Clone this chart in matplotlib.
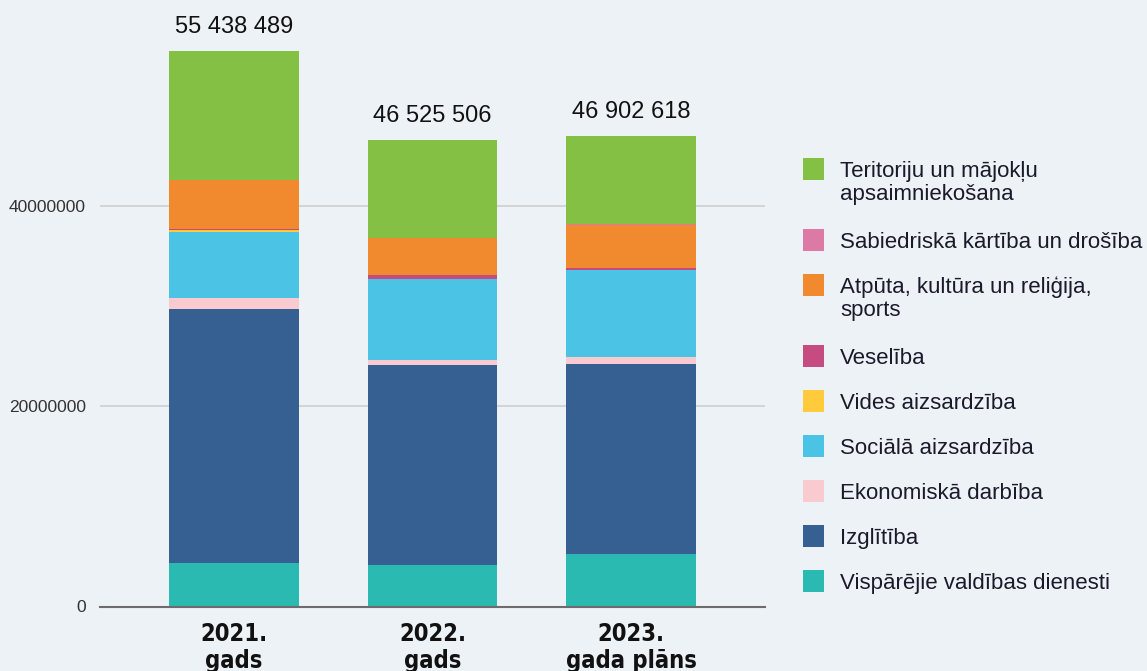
import numpy as np
import matplotlib.pyplot as plt
from matplotlib.patches import Rectangle

# --- data (values in EUR) ---
years = ["2021.\ngads", "2022.\ngads", "2023.\ngada plāns"]
totals_text = ["55 438 489", "46 525 506", "46 902 618"]

# stacked from bottom to top
categories = [
    "Vispārējie valdības dienesti",
    "Izglītība",
    "Ekonomiskā darbība",
    "Sociālā aizsardzība",
    "Vides aizsardzība",
    "Veselība",
    "Atpūta, kultūra un reliģija,\nsports",
    "Sabiedriskā kārtība un drošība",
    "Teritoriju un mājokļu\napsaimniekošana",
]
vispareji = [4340000, 4140000, 5240000]
izglitiba = [25340000, 19950000, 18950000]
ekonomika = [1090000, 500000, 700000]
sociala = [6620000, 8080000, 8680000]
vides = [120000, 0, 0]
veseliba = [130000, 400000, 200000]
atputa = [4900000, 3690000, 4320000]
sabiedriska = [0, 0, 100000]
teritoriju = [12898489, 9765506, 8712618]

series = [vispareji, izglitiba, ekonomika, sociala, vides, veseliba, atputa, sabiedriska, teritoriju]
colors = ["#2BBAB1", "#376092", "#F9CACF", "#4AC3E4", "#FFCB3D", "#C64B80", "#F18A2F", "#DC7AA5", "#84C044"]

BG = "#EDF2F7"
plt.rcParams["font.family"] = ["Liberation Sans", "DejaVu Sans"]

fig = plt.figure(figsize=(11.47, 6.71), dpi=100, facecolor=BG)
ax = fig.add_axes([100 / 1147, (671 - 606.5) / 671, 665 / 1147, 601.5 / 671])
ax.set_facecolor(BG)

x = np.arange(len(years))
bottom = np.zeros(len(years))
for vals, c in zip(series, colors):
    ax.bar(x, vals, bottom=bottom, width=0.65, color=c, linewidth=0, zorder=3)
    bottom += np.array(vals)

for xi, top, txt in zip(x, bottom, totals_text):
    ax.annotate(txt, (xi, top), xytext=(0, 13), textcoords="offset points",
                ha="center", va="baseline", fontsize=17, color="#111111")

ax.set_xlim(-0.675, 2.675)
ax.set_ylim(0, 60000000)
ax.set_yticks([0, 20000000, 40000000])
ax.set_yticklabels(["0", "20000000", "40000000"], fontsize=12.5, color="#333333")
ax.yaxis.grid(True, color="#CFCFCF", linewidth=1.2, zorder=0)
ax.set_xticks(x)
ax.set_xticklabels(years, fontsize=17, fontweight="bold", family="DejaVu Sans",
                   fontstretch="condensed", linespacing=1.15, color="#111111")
ax.tick_params(axis="both", length=0)
ax.tick_params(axis="x", pad=11)
ax.tick_params(axis="y", pad=10)
for s in ["top", "right", "left"]:
    ax.spines[s].set_visible(False)
ax.spines["bottom"].set_color("#6E6A6E")
ax.spines["bottom"].set_linewidth(1.5)
ax.spines["bottom"].set_zorder(4)

# --- legend (top entry first) ---
W, H = 1147, 671
y = 169
for name, c in zip(categories[::-1], colors[::-1]):
    fig.add_artist(Rectangle((803 / W, 1 - (y + 11) / H), 21 / W, 22 / H,
                             transform=fig.transFigure, color=c, linewidth=0))
    fig.text(840 / W, 1 - (y - 8) / H, name, fontsize=16, color="#1A1A2A",
             va="top", ha="left", linespacing=1.12)
    y += 45 + 26 * name.count("\n")

fig.savefig("out.png", dpi=100, facecolor=BG)
